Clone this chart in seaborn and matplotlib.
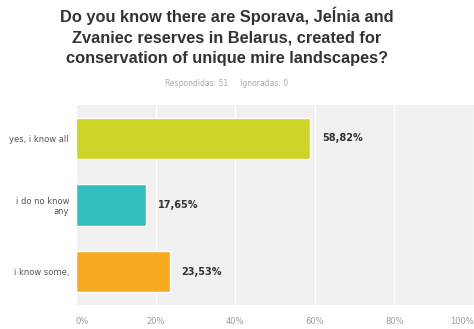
import matplotlib
matplotlib.use("Agg")
import matplotlib.pyplot as plt
import seaborn as sns
import pandas as pd

categories = ["yes, i know all", "i do no know\nany", "i know some,"]
values = [58.82, 17.65, 23.53]
value_labels = ["58,82%", "17,65%", "23,53%"]
colors = ["#CDD427", "#33BEC0", "#F5AA22"]
xticks = [0, 20, 40, 60, 80, 100]
xtick_labels = ["0%", "20%", "40%", "60%", "80%", "100%"]

df = pd.DataFrame({"cat": categories, "val": values})

sns.set_theme(style="white")
plt.rcParams['font.family'] = ['Arial', 'Liberation Sans', 'DejaVu Sans']
small = ['DejaVu Sans']

fig = plt.figure(figsize=(4.74, 3.29), dpi=100)
ax = fig.add_axes([76/474, 1 - 305/329, (474 - 76)/474, 200/329])
sns.barplot(data=df, x="val", y="cat", hue="cat", palette=colors, legend=False,
            width=0.62, ax=ax, orient="h", saturation=1)
ax.set_facecolor("#F0F0F0")
ax.set_xlim(0, 100)
ax.set_ylim(2.5, -0.5)
ax.set_xticks(xticks)
ax.set_xticklabels(xtick_labels, fontsize=6, color="#999999", family=small)
ax.tick_params(axis="x", length=0, pad=9)
ax.tick_params(axis="y", length=0, pad=5)
ax.set_yticks(range(len(categories)))
ax.set_yticklabels(categories, fontsize=6, color="#555555", ha="right", family=small)
xl = ax.get_xticklabels()
xl[0].set_ha("left")
xl[-1].set_ha("right")
ax.grid(axis="x", color="white", linewidth=1)
ax.set_axisbelow(True)
for s in ax.spines.values():
    s.set_visible(False)
ax.set_xlabel("")
ax.set_ylabel("")
for i, (v, t) in enumerate(zip(values, value_labels)):
    ax.text(v + 3, i, t, va="center", ha="left", fontsize=7, fontweight="bold",
            color="#333333", family=small)

fig.text(227/474, 1 - 36/329,
         "Do you know there are Sporava, Jeĺnia and\nZvaniec reserves in Belarus, created for\nconservation of unique mire landscapes?",
         ha="center", va="center", fontsize=11.8, fontweight="bold", color="#333333", linespacing=1.45)
fig.text(227/474, 1 - 83/329, "Respondidas: 51     Ignoradas: 0",
         ha="center", va="center", fontsize=5.5, color="#aaaaaa", family=small)

fig.savefig("out.png", dpi=100, facecolor="white")
